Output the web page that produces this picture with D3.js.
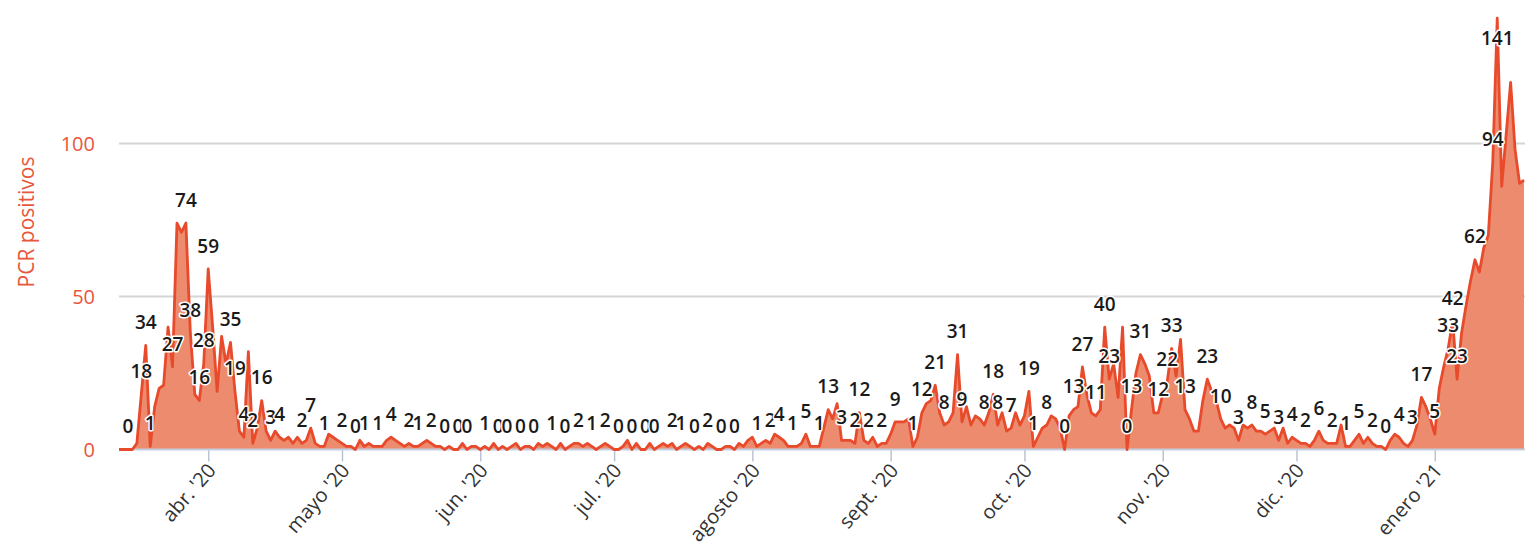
<!DOCTYPE html>
<html>
<head>
<meta charset="utf-8">
<script src="https://cdn.jsdelivr.net/npm/d3@7"></script>
<style>
  body { margin: 0; background: #fff; }
  svg { display: block; font-family: "Open Sans", "Noto Sans", sans-serif; }
</style>
</head>
<body>
<div id="chart"></div>
<script>
// daily PCR positives, first value is 12 Mar 2020
const startDate = new Date(2020, 2, 12);
const values = [
  0, 0, 0, 0, 2, 18, 34, 1, 14, 20,
  21, 40, 27, 74, 71, 74, 38, 18, 16, 28,
  59, 40, 19, 37, 28, 35, 19, 6, 4, 32,
  2, 7, 16, 6, 3, 6, 4, 3, 4, 2,
  4, 2, 3, 7, 2, 1, 1, 5, 4, 3,
  2, 1, 1, 0, 3, 1, 2, 1, 1, 1,
  3, 4, 3, 2, 1, 2, 1, 1, 2, 3,
  2, 1, 1, 0, 1, 0, 0, 2, 0, 1,
  1, 0, 1, 0, 2, 0, 1, 0, 1, 2,
  0, 1, 1, 0, 2, 1, 2, 1, 0, 2,
  0, 1, 2, 2, 1, 2, 1, 0, 1, 2,
  1, 0, 0, 1, 3, 0, 2, 0, 0, 2,
  0, 1, 2, 1, 2, 0, 1, 2, 1, 0,
  1, 0, 2, 1, 0, 0, 1, 1, 0, 2,
  1, 3, 4, 1, 2, 3, 2, 5, 4, 3,
  1, 1, 1, 2, 5, 1, 1, 1, 7, 13,
  10, 15, 3, 3, 3, 2, 12, 3, 2, 4,
  1, 2, 2, 5, 9, 9, 9, 10, 1, 4,
  12, 15, 16, 21, 12, 8, 9, 12, 31, 9,
  14, 8, 11, 10, 8, 12, 18, 8, 12, 6,
  7, 12, 8, 11, 19, 1, 4, 7, 8, 11,
  10, 7, 0, 11, 13, 14, 27, 18, 12, 11,
  13, 40, 23, 28, 17, 40, 0, 13, 25, 31,
  28, 24, 12, 12, 18, 22, 33, 24, 36, 13,
  10, 6, 6, 16, 23, 19, 16, 10, 7, 8,
  7, 3, 8, 7, 8, 6, 6, 5, 6, 7,
  3, 7, 2, 4, 3, 2, 2, 1, 3, 6,
  3, 2, 2, 2, 8, 1, 1, 3, 5, 2,
  4, 2, 1, 1, 0, 3, 5, 4, 2, 1,
  3, 8, 17, 14, 10, 5, 20, 27, 33, 42,
  23, 38, 47, 55, 62, 58, 66, 70, 94, 141,
  86, 103, 120, 98, 87, 88
];

// points whose data label is visible in the chart
const labelIdx = [
  2, 5, 6, 7, 12, 15, 16, 18, 19, 20, 25, 26, 28, 30, 32, 34, 36,
  41, 43, 46, 50, 53, 55, 58, 61, 65, 67, 70, 73, 76, 78, 82, 85, 87,
  90, 93, 97, 100, 103, 106, 109, 112, 115, 118, 120, 124, 126, 129,
  132, 135, 138, 143, 146, 148, 151, 154, 157, 159, 162, 165, 166, 168,
  171, 174, 178, 180, 183, 185, 188, 189, 194, 196, 197, 200, 204, 205,
  208, 212, 214, 216, 219, 221, 222, 226, 227, 229, 233, 235, 236, 239,
  244, 247, 251, 254, 257, 260, 263, 266, 269, 272, 275, 278, 281, 284,
  287, 290, 292, 295, 298, 299, 300, 304, 308, 309
];

const yTicks = [0, 50, 100];
const monthTicks = [
  new Date(2020, 3, 1), new Date(2020, 4, 1), new Date(2020, 5, 1),
  new Date(2020, 6, 1), new Date(2020, 7, 1), new Date(2020, 8, 1),
  new Date(2020, 9, 1), new Date(2020, 10, 1), new Date(2020, 11, 1),
  new Date(2021, 0, 1)
];
const monthLabels = ["abr. '20", "mayo '20", "jun. '20", "jul. '20", "agosto '20",
  "sept. '20", "oct. '20", "nov. '20", "dic. '20", "enero '21"];
const yTitle = "PCR positivos";

const W = 1540, H = 544;
const red = "#e8563c";

const data = values.map((v, i) => ({ date: d3.timeDay.offset(startDate, i), v }));

const x = d3.scaleTime()
  .domain([data[0].date, data[data.length - 1].date])
  .range([119, 1524]);
const y = d3.scaleLinear().domain([0, 100]).range([449.5, 143.5]);

const svg = d3.select("#chart").append("svg")
  .attr("width", W).attr("height", H);

svg.append("rect").attr("width", W).attr("height", H).attr("fill", "#fff");

// grid lines
svg.append("g").selectAll("line")
  .data(yTicks.filter(d => d > 0))
  .join("line")
  .attr("x1", 119).attr("x2", 1525)
  .attr("y1", d => y(d)).attr("y2", d => y(d))
  .attr("stroke", "#d6d6d6").attr("stroke-width", 2);

// y labels
svg.append("g").selectAll("text")
  .data(yTicks)
  .join("text")
  .attr("x", 95).attr("y", d => y(d))
  .attr("dy", "0.35em")
  .attr("text-anchor", "end")
  .attr("fill", red)
  .style("font-size", "20px")
  .text(d => d);

svg.append("text")
  .attr("transform", "translate(34,222) rotate(-90)")
  .attr("text-anchor", "middle")
  .attr("fill", red)
  .style("font-size", "21px")
  .text(yTitle);

// area + line
const area = d3.area()
  .x(d => x(d.date)).y0(y(0)).y1(d => y(d.v));
const line = d3.line()
  .x(d => x(d.date)).y(d => y(d.v));

svg.append("path").datum(data)
  .attr("d", area)
  .attr("fill", "#ec8b6d");

// x axis
const xAxis = svg.append("g")
  .attr("transform", `translate(0,${y(0)})`)
  .call(d3.axisBottom(x).tickValues(monthTicks).tickSize(12)
    .tickFormat((d, i) => monthLabels[i]));
xAxis.select(".domain").remove();
xAxis.selectAll(".tick line").attr("stroke", "#b9c3d6").attr("stroke-width", 1.5);
xAxis.selectAll(".tick text")
  .attr("x", 0).attr("y", 0).attr("dy", "0.35em")
  .attr("transform", "translate(3,17) rotate(-49)")
  .attr("text-anchor", "end")
  .attr("fill", "#333")
  .style("font-size", "20px")
  .style("font-family", "'Open Sans', sans-serif");

svg.append("line")
  .attr("x1", 119).attr("x2", 1525)
  .attr("y1", y(0)).attr("y2", y(0))
  .attr("stroke", "#c4cedf").attr("stroke-width", 2);

svg.append("path").datum(data)
  .attr("d", line)
  .attr("fill", "none")
  .attr("stroke", "#e84a2c")
  .attr("stroke-width", 2.8)
  .attr("stroke-linejoin", "round");

// data labels
svg.append("g").selectAll("text")
  .data(labelIdx.map(i => data[i]))
  .join("text")
  .attr("x", d => x(d.date))
  .attr("y", d => y(d.v) - 23 < 30 ? y(d.v) + 20 : y(d.v) - 23)
  .attr("dy", "0.35em")
  .attr("text-anchor", "middle")
  .attr("fill", "#1a1a1a")
  .attr("stroke", "#fff")
  .attr("stroke-width", 3)
  .attr("stroke-linejoin", "round")
  .attr("paint-order", "stroke")
  .style("font-size", "19px")
  .style("font-weight", 600)
  .text(d => d.v);
</script>
</body>
</html>
